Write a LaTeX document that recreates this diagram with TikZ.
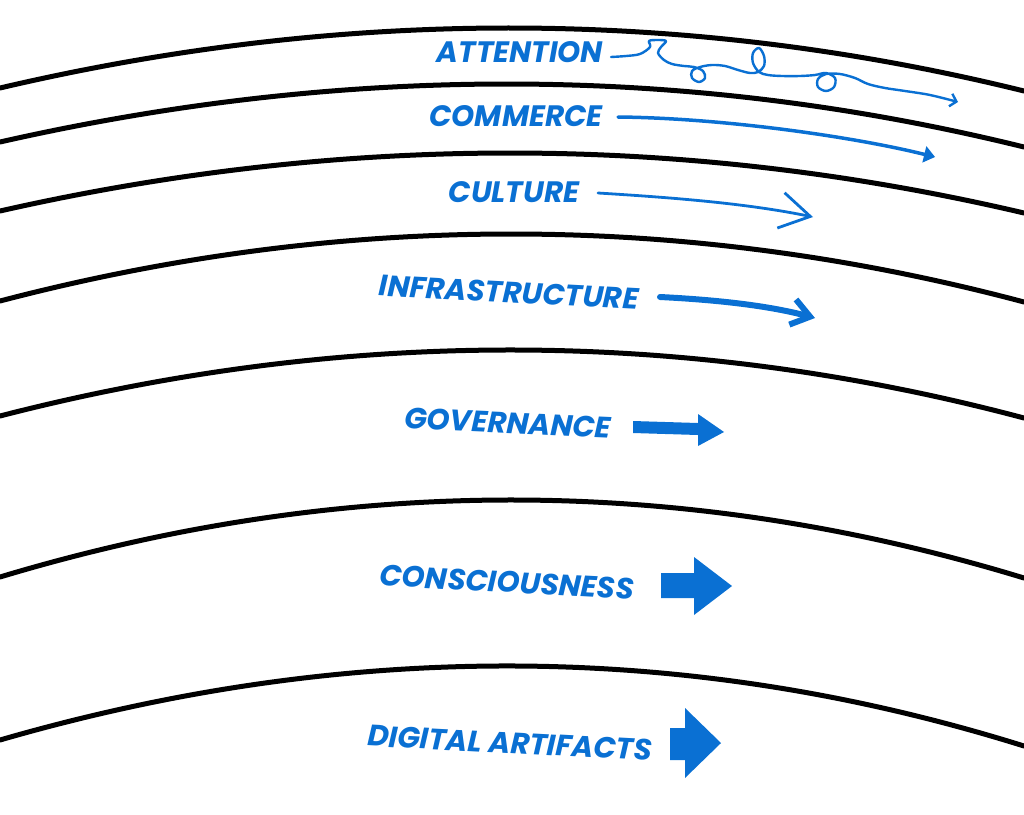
\documentclass[tikz,border=0pt]{standalone}
\usepackage{fontspec}
\setmainfont{Poppins}
\usetikzlibrary{arrows.meta}
\definecolor{lblue}{HTML}{0A70D3}
\tikzset{
  band/.style={line width=5pt, black, line cap=round},
  lab/.style={text=lblue, font=\fontsize{29.5}{29.5}\selectfont\bfseries\itshape, inner sep=0pt, anchor=center},
  squig/.style={draw=lblue, line width=2.4pt, line cap=round, line join=round},
  flow/.style={draw=lblue, line cap=round, line join=round},
  blockarrow/.style={fill=lblue},
}
\begin{document}
\begin{tikzpicture}[x=1pt,y=-1pt]
\useasboundingbox (0,0) rectangle (1024,814);
% bands
\draw[band] (0,88) .. controls (341,8) and (683,7) .. (1024,91);
\draw[band] (0,142) .. controls (341,64.7) and (683,63) .. (1024,147);
\draw[band] (0,211) .. controls (341,133.7) and (683,133) .. (1024,213);
\draw[band] (0,301) .. controls (341,211.7) and (683,211.3) .. (1024,302);
\draw[band] (0,416) .. controls (341,328) and (683,327.3) .. (1024,418);
\draw[band] (0,577) .. controls (341,474.3) and (683,474) .. (1024,578);
\draw[band] (0,740) .. controls (341,641.3) and (683,639.3) .. (1024,746);
% labels
\node[lab] (att) at (520,52) {ATTENTION};
\node[lab] (com) at (516,116) {COMMERCE};
\node[lab] (cul) at (514,192) {CULTURE};
\node[lab, rotate=-3] (inf) at (509,292) {INFRASTRUCTURE};
\node[lab, rotate=-2.5] (gov) at (508,423) {GOVERNANCE};
\node[lab, rotate=-3] (con) at (507,582) {CONSCIOUSNESS};
\node[lab, rotate=-3] (dig) at (510,743) {DIGITAL ARTIFACTS};
% arrows
\draw[squig, -{Straight Barb[length=6pt,width=13pt]}] plot[smooth, tension=0.55] coordinates {
 (611,57) (626,56) (640,54) (650,47) (649,41) (657,40) (666,41) (661,47) (658,53) (664,60) (672,64) (684,66) (694,67) (703,71) (705,78) (699,82) (692,78) (692,71) (700,67) (712,65) (725,66) (738,70) (750,73) (758,72) (764,66) (764,56) (759,48) (753,53) (753,63) (759,72) (768,75) (782,76) (800,76) (815,75) (826,73) (835,78) (834,87) (826,91) (818,87) (818,79) (826,74) (840,74) (855,78) (868,84) (885,88) (905,91) (930,95) (958,102)};
\coordinate (c0) at (618,117);
\coordinate (c1) at (935,157);
\draw[flow, line width=3.5pt, -{Triangle[length=11pt,width=17pt,line width=0pt]}] (c0) .. controls (720,118) and (850,136) .. (c1);
\coordinate (u0) at (598,193);
\coordinate (u1) at (813,217);
\draw[flow, line width=2.8pt, -{Straight Barb[length=30pt,width=36pt]}] (u0) .. controls (680,198) and (750,204) .. (u1);
\coordinate (i0) at (660,297);
\coordinate (i1) at (815,318);
\draw[flow, line width=6pt, -{Straight Barb[length=18pt,width=26pt]}] (i0) .. controls (720,300) and (770,306) .. (i1);
\fill[blockarrow] (633,421) -- (698,423) -- (698,414) -- (724,432) -- (698,446) -- (698,435) -- (633,433) -- cycle;
\fill[blockarrow] (661,573) -- (694,573) -- (694,557) -- (732,586) -- (694,615) -- (694,598) -- (661,598) -- cycle;
\fill[blockarrow] (670,728) -- (685,728) -- (685,708) -- (721,743) -- (685,778) -- (685,760) -- (670,760) -- cycle;
\end{tikzpicture}
\end{document}
